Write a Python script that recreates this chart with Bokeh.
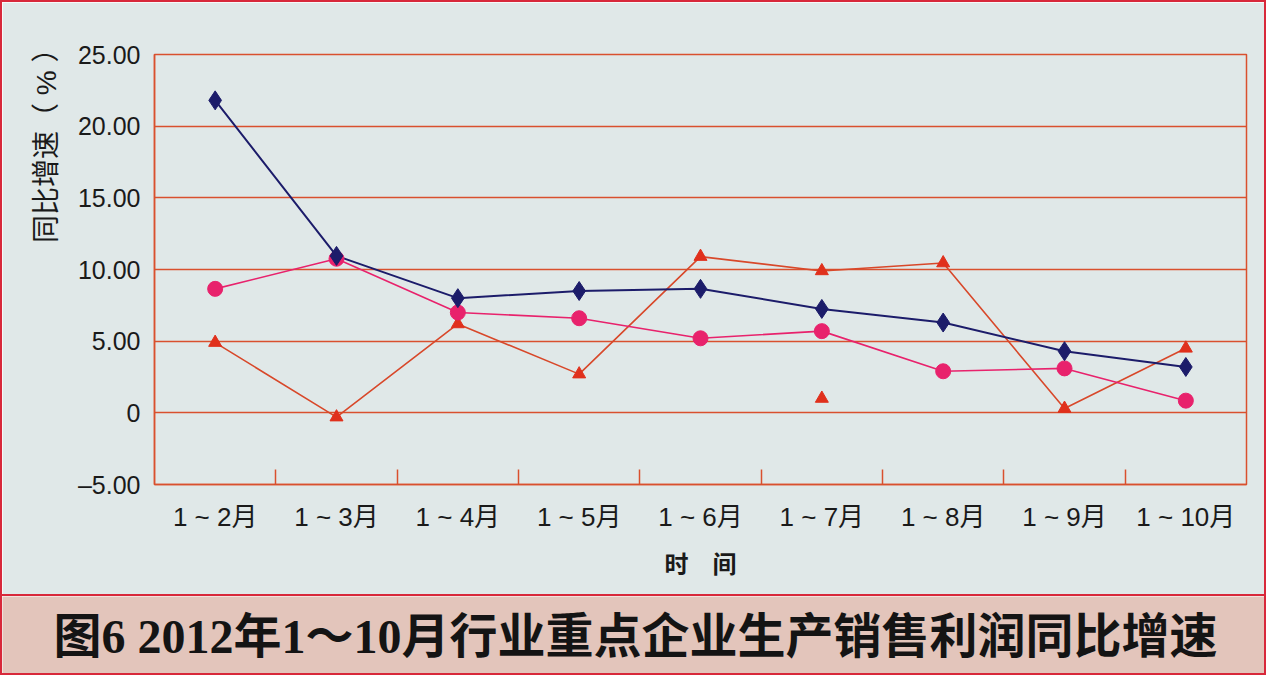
from bokeh.plotting import figure
from bokeh.layouts import column
from bokeh.models import Range1d, FixedTicker, ColumnDataSource, Title
from bokeh.embed import file_html
from bokeh.resources import INLINE
from bokeh.core.properties import value

# ---------------- data ----------------
categories = ["1 ~ 2月", "1 ~ 3月", "1 ~ 4月", "1 ~ 5月", "1 ~ 6月", "1 ~ 7月", "1 ~ 8月", "1 ~ 9月", "1 ~ 10月"]
series_blue = [21.8, 10.95, 8.0, 8.5, 8.65, 7.25, 6.3, 4.3, 3.2]
series_pink = [8.65, 10.75, 7.0, 6.6, 5.2, 5.7, 2.9, 3.1, 0.85]
series_red = [4.9, -0.3, 6.2, 2.7, 10.9, 9.9, 10.45, 0.3, 4.5]
extra_red_category = ["1 ~ 7月"]
extra_red_value = [1.0]
y_tick_values = [-5, 0, 5, 10, 15, 20, 25]
y_tick_labels = ["–5.00", "0", "5.00", "10.00", "15.00", "20.00", "25.00"]
y_axis_title = "同比增速（ % ）"
x_axis_title = "时　间"
chart_title = "图6 2012年1～10月行业重点企业生产销售利润同比增速"

# ---------------- styles ----------------
BG = "#e0e8e8"
TITLE_BG = "#e3c5bb"
GRID_RED = "#d9502e"
BORDER_RED = "#d8283a"
BLUE = "#1c1c6a"
PINK = "#e8226c"
RED = "#e0301c"
RED_LINE = "#d8482a"
TXT_FONT = "Liberation Sans, Noto Sans CJK SC"

x_idx = list(range(len(categories)))
boundaries = [i + 0.5 for i in range(len(categories) - 1)]

src = ColumnDataSource(dict(x=x_idx, blue=series_blue, pink=series_pink, red=series_red))
extra_src = ColumnDataSource(dict(x=[categories.index(c) for c in extra_red_category], y=extra_red_value))

p = figure(width=1266, height=596, output_backend="svg", toolbar_location=None,
           x_range=Range1d(-0.5, len(categories) - 0.5), y_range=Range1d(-5, 25),
           min_border_left=152, min_border_right=22, min_border_top=52, min_border_bottom=114)
p.background_fill_color = BG
p.border_fill_color = BG
p.outline_line_color = GRID_RED
p.outline_line_width = 1.5
p.styles = {"border": f"2px solid {BORDER_RED}"}

# grid
p.xgrid.grid_line_color = None
p.ygrid.ticker = FixedTicker(ticks=y_tick_values)
p.ygrid.grid_line_color = GRID_RED
p.ygrid.grid_line_width = 1.6

# x axis
xa = p.xaxis[0]
xa.ticker = FixedTicker(ticks=x_idx, minor_ticks=boundaries)
xa.major_label_overrides = {i: c for i, c in zip(x_idx, categories)}
xa.major_tick_line_color = None
xa.minor_tick_line_color = GRID_RED
xa.minor_tick_line_width = 1.5
xa.minor_tick_in = 15
xa.minor_tick_out = 0
xa.axis_line_color = GRID_RED
xa.axis_line_width = 1.5
xa.major_label_text_font = TXT_FONT
xa.major_label_text_font_size = "26px"
xa.major_label_text_color = "#1a1a1a"
xa.major_label_standoff = 11
xa.axis_label = x_axis_title
xa.axis_label_text_font = TXT_FONT
xa.axis_label_text_font_style = "bold"
xa.axis_label_text_font_size = "24px"
xa.axis_label_text_color = "#1a1a1a"
xa.axis_label_standoff = 16

# y axis
ya = p.yaxis[0]
ya.ticker = FixedTicker(ticks=y_tick_values)
ya.major_label_overrides = {v: s for v, s in zip(y_tick_values, y_tick_labels)}
ya.major_tick_line_color = None
ya.minor_tick_line_color = None
ya.axis_line_color = GRID_RED
ya.axis_line_width = 1.5
ya.major_label_text_font = TXT_FONT
ya.major_label_text_font_size = "25px"
ya.major_label_text_color = "#1a1a1a"
ya.major_label_standoff = 8

# y axis title, near the top like the reference
ytitle = Title(text=y_axis_title, align="right", offset=-20, standoff=26,
               text_font=TXT_FONT, text_font_size="28px", text_font_style="normal",
               text_color="#1a1a1a")
p.add_layout(ytitle, "left")

# series
p.line("x", "red", source=src, line_color=RED_LINE, line_width=1.6)
p.line("x", "pink", source=src, line_color=PINK, line_width=1.6)
p.line("x", "blue", source=src, line_color=BLUE, line_width=2.0)
p.scatter("x", "red", source=src, marker="triangle", size=13, fill_color=RED, line_color=RED)
p.scatter("x", "y", source=extra_src, marker="triangle", size=13, fill_color=RED, line_color=RED)
p.scatter("x", "pink", source=src, marker="circle", size=15, fill_color=PINK, line_color=PINK)
p.scatter("x", "blue", source=src, marker="diamond", size=19, fill_color=BLUE, line_color=BLUE)

# title box
t = figure(width=1266, height=79, output_backend="svg", toolbar_location=None,
           x_range=Range1d(0, 1), y_range=Range1d(0, 1),
           x_axis_type=None, y_axis_type=None,
           min_border_left=0, min_border_right=0, min_border_top=0, min_border_bottom=0)
for fig in (p, t):
    try:
        fig.frame_align = False
    except Exception:
        pass
t.background_fill_color = TITLE_BG
t.border_fill_color = TITLE_BG
t.outline_line_color = None
t.xgrid.grid_line_color = None
t.ygrid.grid_line_color = None
t.styles = {"border": f"2px solid {BORDER_RED}", "border-top": "none"}
t.text(x=[0.5], y=[0.5], text=[chart_title], text_align="center", text_baseline="middle",
       text_font=value("Liberation Serif, Noto Sans CJK SC"), text_font_style="bold",
       text_font_size="48px", text_color="#141414")

layout = column(p, t, spacing=0)
open("out.html", "w").write(file_html(layout, INLINE))
